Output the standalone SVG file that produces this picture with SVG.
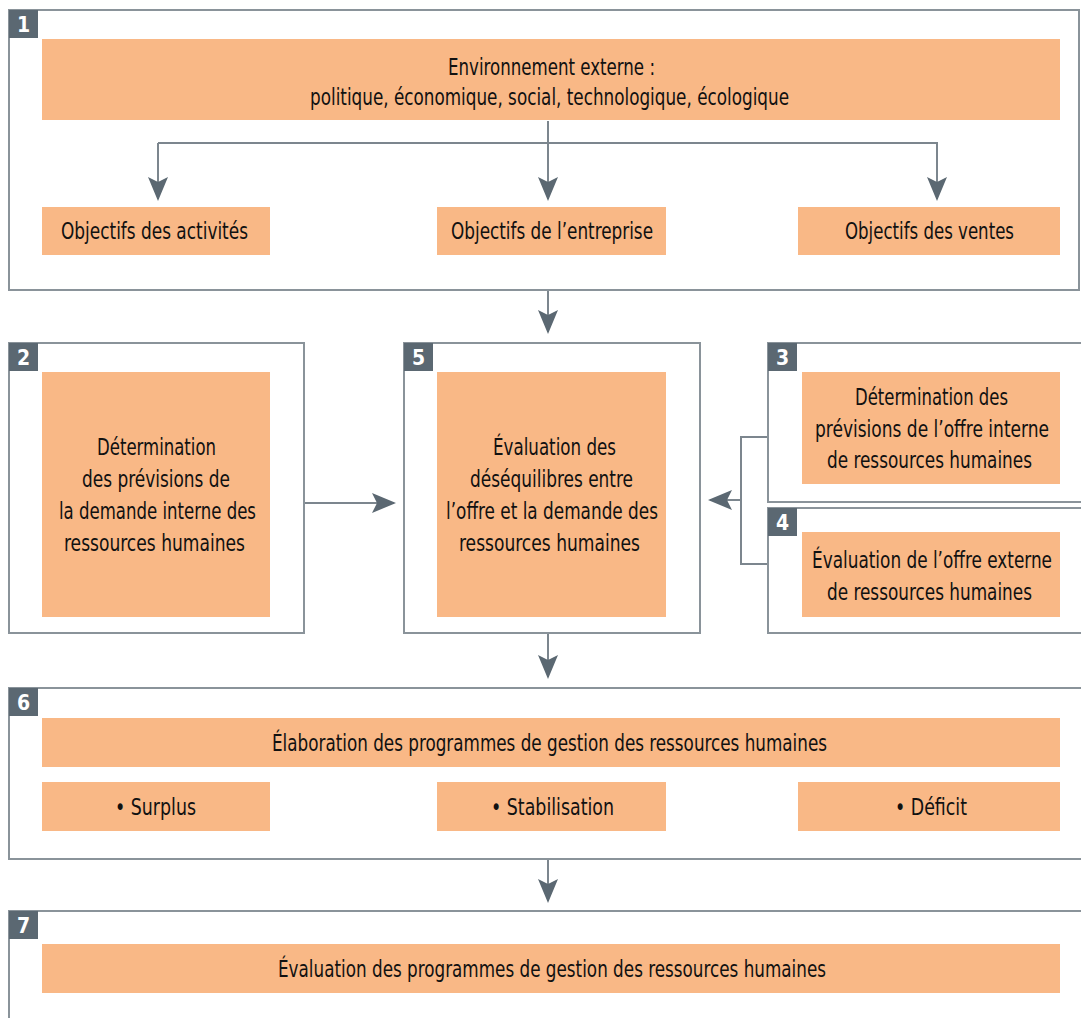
<svg xmlns="http://www.w3.org/2000/svg" width="1081" height="1018" viewBox="0 0 1081 1018">
<style>
.frame{fill:none;stroke:#8a939a;stroke-width:2}
.tab{fill:#5b6872}
.num{fill:#fff;font-family:"DejaVu Sans Condensed","Liberation Sans",sans-serif;font-weight:bold;font-size:21px;text-anchor:middle}
.box{fill:#f9b886}
.t{fill:#111;font-family:"DejaVu Sans Condensed","Liberation Sans",sans-serif;font-size:23px;text-anchor:middle}
.ln{fill:none;stroke:#7c868e;stroke-width:2}
</style>
<defs>
<marker id="ah" viewBox="0 0 24 20" refX="22" refY="10" markerWidth="24" markerHeight="20" markerUnits="userSpaceOnUse" orient="auto">
<path d="M0,0 L24,10 L0,20 L5,10 Z" fill="#5b6872"/>
</marker>
</defs>
<rect width="1081" height="1018" fill="#fff"/>

<g id="connectors">
<line class="ln" x1="548" y1="121" x2="548" y2="199" marker-end="url(#ah)"/>
<polyline class="ln" points="158,143 937,143 937,199" marker-end="url(#ah)"/>
<line class="ln" x1="158" y1="143" x2="158" y2="199" marker-end="url(#ah)"/>
<line class="ln" x1="548" y1="291" x2="548" y2="332" marker-end="url(#ah)"/>
<line class="ln" x1="304" y1="503" x2="394" y2="503" marker-end="url(#ah)"/>
<polyline class="ln" points="768,437 741,437 741,564 768,564"/>
<line class="ln" x1="741" y1="500" x2="710" y2="500" marker-end="url(#ah)"/>
<line class="ln" x1="548" y1="634" x2="548" y2="677" marker-end="url(#ah)"/>
<line class="ln" x1="548" y1="860" x2="548" y2="901" marker-end="url(#ah)"/>
</g>

<g id="n1">
<rect class="frame" x="9" y="10" width="1070" height="280"/>
<rect class="tab" x="9" y="10" width="29" height="28"/>
<text class="num" x="23.5" y="32">1</text>
<rect class="box" x="42" y="39" width="1018" height="81"/>
<text class="t" x="551.5" y="75" textLength="207" lengthAdjust="spacingAndGlyphs">Environnement externe :</text>
<text class="t" x="549.5" y="105" textLength="479" lengthAdjust="spacingAndGlyphs">politique, économique, social, technologique, écologique</text>
</g>
<g id="n1a">
<rect class="box" x="42" y="207" width="228" height="48"/>
<text class="t" x="154.5" y="239" textLength="187" lengthAdjust="spacingAndGlyphs">Objectifs des activités</text>
</g>
<g id="n1b">
<rect class="box" x="437" y="207" width="229" height="48"/>
<text class="t" x="552" y="239" textLength="202" lengthAdjust="spacingAndGlyphs">Objectifs de l’entreprise</text>
</g>
<g id="n1c">
<rect class="box" x="798" y="207" width="262" height="48"/>
<text class="t" x="929.5" y="239" textLength="169" lengthAdjust="spacingAndGlyphs">Objectifs des ventes</text>
</g>

<g id="n2">
<rect class="frame" x="9" y="343" width="295" height="290"/>
<rect class="tab" x="9" y="343" width="29" height="28"/>
<text class="num" x="23.5" y="365">2</text>
<rect class="box" x="42" y="372" width="228" height="245"/>
<text class="t" x="156.5" y="455" textLength="119" lengthAdjust="spacingAndGlyphs">Détermination</text>
<text class="t" x="156" y="487" textLength="148" lengthAdjust="spacingAndGlyphs">des prévisions de</text>
<text class="t" x="157.5" y="519" textLength="197" lengthAdjust="spacingAndGlyphs">la demande interne des</text>
<text class="t" x="154.5" y="551" textLength="181" lengthAdjust="spacingAndGlyphs">ressources humaines</text>
</g>

<g id="n5">
<rect class="frame" x="404" y="343" width="296" height="290"/>
<rect class="tab" x="404" y="343" width="29" height="28"/>
<text class="num" x="418.5" y="365">5</text>
<rect class="box" x="437" y="372" width="229" height="245"/>
<text class="t" x="554.5" y="455" textLength="123" lengthAdjust="spacingAndGlyphs">Évaluation des</text>
<text class="t" x="551.5" y="487" textLength="163" lengthAdjust="spacingAndGlyphs">déséquilibres entre</text>
<text class="t" x="552" y="519" textLength="212" lengthAdjust="spacingAndGlyphs">l’offre et la demande des</text>
<text class="t" x="549.5" y="551" textLength="181" lengthAdjust="spacingAndGlyphs">ressources humaines</text>
</g>

<g id="n3">
<rect class="frame" x="768" y="343" width="330" height="159"/>
<rect class="tab" x="768" y="343" width="29" height="28"/>
<text class="num" x="782.5" y="365">3</text>
<rect class="box" x="802" y="372" width="258" height="112"/>
<text class="t" x="931.5" y="405" textLength="153" lengthAdjust="spacingAndGlyphs">Détermination des</text>
<text class="t" x="932" y="437" textLength="234" lengthAdjust="spacingAndGlyphs">prévisions de l’offre interne</text>
<text class="t" x="929.5" y="468" textLength="205" lengthAdjust="spacingAndGlyphs">de ressources humaines</text>
</g>

<g id="n4">
<rect class="frame" x="768" y="508" width="330" height="125"/>
<rect class="tab" x="768" y="508" width="29" height="28"/>
<text class="num" x="782.5" y="530">4</text>
<rect class="box" x="802" y="532" width="258" height="85"/>
<text class="t" x="932" y="568" textLength="240" lengthAdjust="spacingAndGlyphs">Évaluation de l’offre externe</text>
<text class="t" x="929.5" y="600" textLength="205" lengthAdjust="spacingAndGlyphs">de ressources humaines</text>
</g>

<g id="n6">
<rect class="frame" x="9" y="688" width="1090" height="171"/>
<rect class="tab" x="9" y="688" width="29" height="28"/>
<text class="num" x="23.5" y="710">6</text>
<rect class="box" x="42" y="718" width="1018" height="49"/>
<text class="t" x="549.5" y="751" textLength="555" lengthAdjust="spacingAndGlyphs">Élaboration des programmes de gestion des ressources humaines</text>
</g>
<g id="n6a">
<rect class="box" x="42" y="782" width="228" height="49"/>
<text class="t" x="155.5" y="815" textLength="81" lengthAdjust="spacingAndGlyphs">• Surplus</text>
</g>
<g id="n6b">
<rect class="box" x="437" y="782" width="229" height="49"/>
<text class="t" x="552.5" y="815" textLength="123" lengthAdjust="spacingAndGlyphs">• Stabilisation</text>
</g>
<g id="n6c">
<rect class="box" x="798" y="782" width="262" height="49"/>
<text class="t" x="931" y="815" textLength="72" lengthAdjust="spacingAndGlyphs">• Déficit</text>
</g>

<g id="n7">
<rect class="frame" x="9" y="911" width="1090" height="130"/>
<rect class="tab" x="9" y="911" width="29" height="28"/>
<text class="num" x="23.5" y="933">7</text>
<rect class="box" x="42" y="944" width="1018" height="49"/>
<text class="t" x="552" y="977" textLength="548" lengthAdjust="spacingAndGlyphs">Évaluation des programmes de gestion des ressources humaines</text>
</g>
</svg>
